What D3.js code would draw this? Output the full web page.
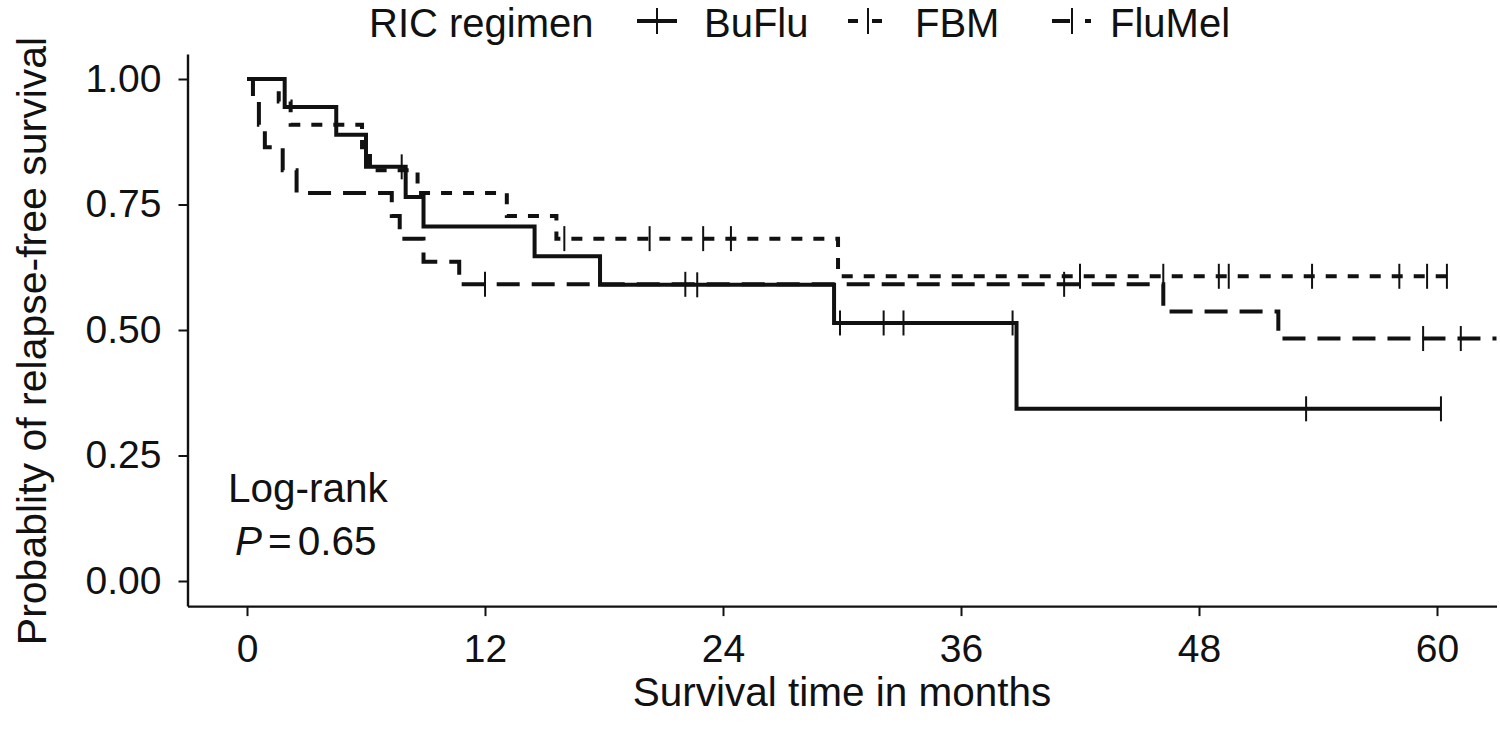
<!DOCTYPE html>
<html><head><meta charset="utf-8">
<script src="https://cdn.jsdelivr.net/npm/d3@7"></script>
<style>
body{margin:0;background:#fff}
text{font-family:"Liberation Sans", Arial, Helvetica, sans-serif; fill:#111}
</style>
</head><body>
<svg id="chart" width="1500" height="732"></svg>
<script>
// ---- data ----
const groups = ["BuFlu", "FBM", "FluMel"];
const legendTitle = "RIC regimen";
const xTicks = [0, 12, 24, 36, 48, 60];
const yTicks = [0, 0.25, 0.5, 0.75, 1];

const buFluTimes = [0, 1.9, 4.5, 6.0, 8.0, 8.9, 14.5, 17.8, 29.6, 38.8];
const buFluSurv  = [1, 0.944, 0.889, 0.825, 0.765, 0.706, 0.647, 0.590, 0.514, 0.343];
const buFluEnd = 60.2;
const buFluCensor = [7.8, 22.7, 29.9, 32.1, 33.1, 38.6, 53.4, 60.2];

const fbmTimes = [0, 1.6, 2.2, 5.8, 6.2, 8.6, 13.1, 15.6, 29.8];
const fbmSurv  = [1, 0.955, 0.909, 0.864, 0.818, 0.773, 0.727, 0.682, 0.607];
const fbmEnd = 60.5;
const fbmCensor = [16.0, 20.3, 23.0, 24.4, 42.0, 46.2, 49.0, 49.5, 53.7, 58.1, 59.5, 60.5];

const fluMelTimes = [0, 0.3, 0.6, 0.9, 1.8, 2.5, 7.3, 7.7, 8.9, 10.7, 46.2, 52.0];
const fluMelSurv  = [1, 0.955, 0.909, 0.864, 0.818, 0.773, 0.727, 0.682, 0.636, 0.591, 0.537, 0.483];
const fluMelEnd = 63;
const fluMelCensor = [12.0, 22.1, 41.2, 59.3, 61.2];

const series = [
  {name: groups[0], times: buFluTimes, surv: buFluSurv, end: buFluEnd, censor: buFluCensor, dash: null, keyDash: null},
  {name: groups[1], times: fbmTimes, surv: fbmSurv, end: fbmEnd, censor: fbmCensor, dash: "11,11", keyDash: "10,14,10"},
  {name: groups[2], times: fluMelTimes, surv: fluMelSurv, end: fluMelEnd, censor: fluMelCensor, dash: "23,12", keyDash: "18,15,6"}
];

// ---- layout ----
const svg = d3.select("#chart");
const x = d3.scaleLinear().domain([-3, 63]).range([187.5, 1496.5]);
const y = d3.scaleLinear().domain([-0.05, 1.05]).range([606.1, 53.9]);

// axes
const xAxis = svg.append("g").attr("transform", `translate(0,${y(-0.05)})`)
  .call(d3.axisBottom(x).tickValues(xTicks).tickSize(10).tickSizeOuter(0).tickPadding(18));
const yAxis = svg.append("g").attr("transform", `translate(${x(-3)},0)`)
  .call(d3.axisLeft(y).tickValues(yTicks).tickFormat(d3.format(".2f")).tickSize(9).tickSizeOuter(0).tickPadding(17));
[xAxis, yAxis].forEach(g => {
  g.select(".domain").attr("stroke", "#111").attr("stroke-width", 2.4);
  g.selectAll(".tick line").attr("stroke", "#111").attr("stroke-width", 2);
  g.selectAll(".tick text").attr("font-size", 39).attr("fill", "#111")
    .style("font-family", '"Liberation Sans", Arial, sans-serif');
});

// axis titles
svg.append("text").attr("x", x(30)).attr("y", 706).attr("text-anchor", "middle")
  .attr("font-size", 40.5).text("Survival time in months");
svg.append("text").attr("transform", `translate(46,${(y(-0.05)+y(1.05))/2 + 11}) rotate(-90)`)
  .attr("text-anchor", "middle").attr("font-size", 41).text("Probablity of relapse-free survival");

// curves
const line = d3.line().x(d => x(d[0])).y(d => y(d[1])).curve(d3.curveStepAfter);
const plot = svg.append("g");
series.forEach(s => {
  const pts = s.times.map((t, i) => [t, s.surv[i]]);
  pts.push([s.end, s.surv[s.surv.length - 1]]);
  plot.append("path").datum(pts).attr("d", line)
    .attr("fill", "none").attr("stroke", "#111").attr("stroke-width", 4)
    .attr("stroke-dasharray", s.dash);
  const survAt = t => { let v = 1; s.times.forEach((tt, i) => { if (tt <= t) v = s.surv[i]; }); return v; };
  plot.selectAll(null).data(s.censor).enter().append("line")
    .attr("x1", d => x(d)).attr("x2", d => x(d))
    .attr("y1", d => y(survAt(d)) - 12.5).attr("y2", d => y(survAt(d)) + 12.5)
    .attr("stroke", "#111").attr("stroke-width", 2);
});

// annotation
svg.append("text").attr("x", 228).attr("y", 502).attr("font-size", 40.5).text("Log-rank");
const pv = svg.append("text").attr("x", 235).attr("y", 555).attr("font-size", 40.5);
pv.append("tspan").attr("font-style", "italic").text("P");
pv.append("tspan").attr("dx", 6).text("=");
pv.append("tspan").attr("dx", 6).text("0.65");

// legend
const legY = 21, legBase = 37;
svg.append("text").attr("x", 369).attr("y", legBase).attr("font-size", 40).text(legendTitle);
const keyX = [637, 848, 1052];
const textX = [704, 915, 1110];
series.forEach((s, i) => {
  const k0 = keyX[i], k1 = k0 + 40;
  svg.append("line").attr("x1", k0).attr("x2", k1).attr("y1", legY).attr("y2", legY)
    .attr("stroke", "#111").attr("stroke-width", 4).attr("stroke-dasharray", s.keyDash);
  svg.append("line").attr("x1", k0 + 20).attr("x2", k0 + 20).attr("y1", legY - 13).attr("y2", legY + 13)
    .attr("stroke", "#111").attr("stroke-width", 2);
  svg.append("text").attr("x", textX[i]).attr("y", legBase).attr("font-size", 40).text(s.name);
});
</script>
</body></html>
